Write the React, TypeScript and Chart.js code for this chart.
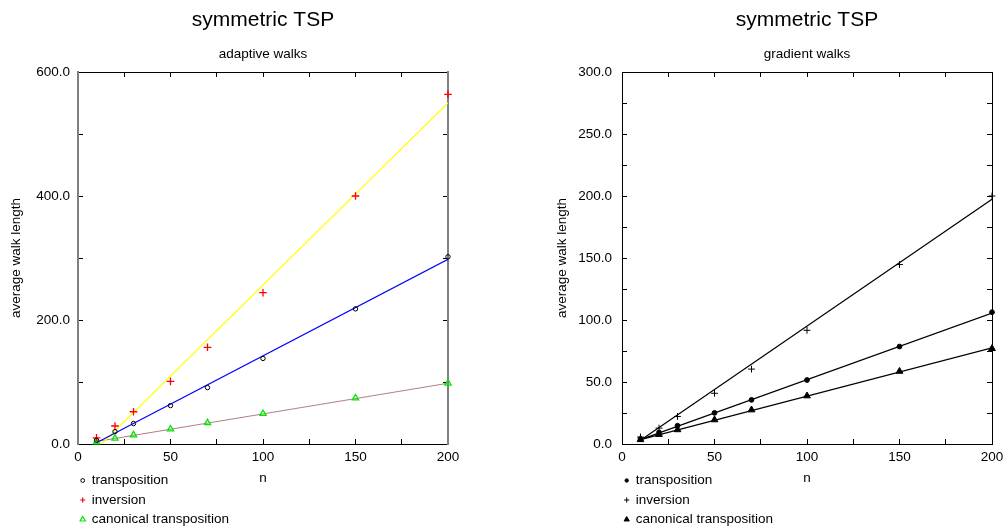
import React, { useEffect, useRef } from 'react';
import { Chart, registerables } from 'chart.js';

Chart.register(...registerables);

const FONT = "'Liberation Sans', Arial, Helvetica, sans-serif";

// ---------- data ----------
const nValues = [10, 20, 30, 50, 70, 100, 150, 200];
const fitRange = [10, 200];

// adaptive walks
const adaptiveTransposition = [6, 20, 33, 62, 91, 138, 218, 302];
const adaptiveInversion = [10, 29, 52, 101, 156, 244, 400, 564];
const adaptiveCanonical = [3, 9, 14.5, 24, 34, 49, 74, 98];
const adaptiveFitTransposition = [2, 298];
const adaptiveFitInversion = [-8, 550];
const adaptiveFitCanonical = [4, 98];

// gradient walks
const gradientTransposition = [4.0, 9.3, 14.7, 25.1, 35.6, 51.6, 78.6, 106.3];
const gradientInversion = [5.6, 12.8, 22.2, 40.9, 60.4, 91.7, 144.7, 200];
const gradientCanonical = [3.5, 7.7, 11.5, 19.5, 27.5, 38.8, 58.6, 77];
const gradientFitTransposition = [3.5, 105.5];
const gradientFitInversion = [3, 197.4];
const gradientFitCanonical = [3.5, 77.5];

const seriesLabels = ['transposition', 'inversion', 'canonical transposition'];
const chartTitle = 'symmetric TSP';
const subtitles = ['adaptive walks', 'gradient walks'];
const xTitle = 'n';
const yTitle = 'average walk length';

// ---------- helpers ----------
const toPoints = (xs: number[], ys: number[]) => xs.map((x, i) => ({ x, y: ys[i] }));

type Marker = { style: 'circle' | 'cross' | 'triangle'; r: number; color: string; fill: string | null; lw: number };

function drawMarker(ctx: CanvasRenderingContext2D, m: Marker, x: number, y: number) {
  ctx.save();
  ctx.strokeStyle = m.color;
  ctx.lineWidth = m.lw;
  ctx.beginPath();
  if (m.style === 'circle') {
    ctx.arc(x, y, m.r, 0, Math.PI * 2);
  } else if (m.style === 'cross') {
    ctx.moveTo(x - m.r, y);
    ctx.lineTo(x + m.r, y);
    ctx.moveTo(x, y - m.r);
    ctx.lineTo(x, y + m.r);
  } else {
    let rad = 0;
    ctx.moveTo(x + Math.sin(rad) * m.r, y - Math.cos(rad) * m.r);
    rad += (2 * Math.PI) / 3;
    ctx.lineTo(x + Math.sin(rad) * m.r, y - Math.cos(rad) * m.r);
    rad += (2 * Math.PI) / 3;
    ctx.lineTo(x + Math.sin(rad) * m.r, y - Math.cos(rad) * m.r);
    ctx.closePath();
  }
  if (m.fill && m.style !== 'cross') {
    ctx.fillStyle = m.fill;
    ctx.fill();
  }
  ctx.stroke();
  ctx.restore();
}

const LEGEND_TOP = 36.5;
const LEGEND_ROW = 19.5;

const rowLegendPlugin = {
  id: 'rowLegend',
  afterDraw(chart: any) {
    const { ctx, chartArea } = chart;
    const items = chart.data.datasets.filter((d: any) => d.legendMarker);
    ctx.save();
    ctx.font = `13.5px ${FONT}`;
    ctx.textBaseline = 'middle';
    ctx.textAlign = 'left';
    ctx.fillStyle = '#000';
    items.forEach((d: any, i: number) => {
      const y = chartArea.bottom + LEGEND_TOP + i * LEGEND_ROW;
      drawMarker(ctx, d.legendMarker, chartArea.left + 4.7, y);
      ctx.fillText(d.label, chartArea.left + 13.7, y);
    });
    ctx.restore();
  },
};

type PanelParams = {
  subtitle: string;
  yMax: number;
  yStep: number;
  yLabelStep: number;
  yAxisWidth: number;
  rightPad: number;
  yBorderColor: string;
  yBorderWidth: number;
  yTickPad: number;
  yTitlePad: number;
  datasets: any[];
};

function buildConfig(p: PanelParams): any {
  const tickFont = { family: FONT, size: 13.5 };
  const grid = {
    display: true,
    drawOnChartArea: false,
    drawTicks: true,
    tickLength: -5,
    color: '#000',
    tickColor: '#000',
    tickWidth: 1,
  };
  const xBorder = { display: true, color: '#000', width: 1 };
  const yBorder = { display: true, color: p.yBorderColor, width: p.yBorderWidth };
  return {
    type: 'scatter',
    data: { datasets: p.datasets },
    options: {
      responsive: false,
      animation: false,
      events: [],
      layout: { padding: { left: 0, right: p.rightPad, top: 0, bottom: 42 } },
      plugins: {
        legend: { display: false },
        tooltip: { enabled: false },
        title: {
          display: true,
          text: chartTitle,
          fullSize: false,
          color: '#000',
          font: { family: FONT, size: 21, weight: 'normal' },
          padding: { top: 7.7, bottom: 0 },
        },
        subtitle: {
          display: true,
          text: p.subtitle,
          fullSize: false,
          color: '#000',
          font: { family: FONT, size: 13.5, weight: 'normal' },
          padding: { top: 12.8, bottom: 10.1 },
        },
      },
      scales: {
        x: {
          type: 'linear',
          position: 'bottom',
          min: 0,
          max: 200,
          afterFit: (s: any) => {
            s.height = 45;
            s.paddingLeft = 0;
            s.paddingRight = 0;
          },
          ticks: {
            stepSize: 25,
            autoSkip: false,
            maxRotation: 0,
            font: tickFont,
            color: '#000',
            padding: 10.4,
            callback: (v: number) => (v % 50 === 0 ? String(v) : ''),
          },
          grid,
          border: xBorder,
          title: {
            display: true,
            text: xTitle,
            color: '#000',
            font: { family: FONT, size: 13.5 },
            padding: { top: 0, bottom: 2.8 },
          },
        },
        x2: {
          type: 'linear',
          position: 'top',
          min: 0,
          max: 200,
          afterFit: (s: any) => {
            s.height = 0;
            s.paddingLeft = 0;
            s.paddingRight = 0;
          },
          ticks: { display: false, stepSize: 25, autoSkip: false },
          grid,
          border: xBorder,
        },
        y: {
          type: 'linear',
          position: 'left',
          min: 0,
          max: p.yMax,
          afterFit: (s: any) => {
            s.width = p.yAxisWidth;
            s.paddingTop = 0;
            s.paddingBottom = 0;
          },
          ticks: {
            stepSize: p.yStep,
            autoSkip: false,
            font: tickFont,
            color: '#000',
            padding: p.yTickPad,
            callback: (v: number) => (v % p.yLabelStep === 0 ? v.toFixed(1) : ''),
          },
          grid,
          border: yBorder,
          title: {
            display: true,
            text: yTitle,
            color: '#000',
            font: { family: FONT, size: 13.5 },
            padding: { top: p.yTitlePad, bottom: 0 },
          },
        },
        y2: {
          type: 'linear',
          position: 'right',
          min: 0,
          max: p.yMax,
          afterFit: (s: any) => {
            s.width = 0;
            s.paddingTop = 0;
            s.paddingBottom = 0;
          },
          ticks: { display: false, stepSize: p.yStep, autoSkip: false },
          grid,
          border: yBorder,
        },
      },
    },
    plugins: [rowLegendPlugin],
  };
}

function pointSet(label: string, ys: number[], m: Marker, legendMarker: Marker) {
  return {
    label,
    data: toPoints(nValues, ys),
    showLine: false,
    clip: false,
    pointStyle: m.style,
    pointRadius: m.r,
    pointHoverRadius: m.r,
    pointBorderColor: m.color,
    pointBackgroundColor: m.fill ?? 'rgba(0,0,0,0)',
    pointBorderWidth: m.lw,
    legendMarker,
  };
}

function fitSet(label: string, ys: number[], color: string) {
  return {
    label,
    data: toPoints(fitRange, ys),
    showLine: true,
    borderColor: color,
    borderWidth: 1.2,
    pointRadius: 0,
    pointHoverRadius: 0,
    fill: false,
  };
}

const adaptiveDatasets = [
  pointSet(seriesLabels[0], adaptiveTransposition,
    { style: 'circle', r: 2.2, color: '#000', fill: null, lw: 1 },
    { style: 'circle', r: 1.9, color: '#000', fill: null, lw: 1 }),
  pointSet(seriesLabels[1], adaptiveInversion,
    { style: 'cross', r: 3.8, color: '#ff0000', fill: null, lw: 1.3 },
    { style: 'cross', r: 2.5, color: '#ff0000', fill: null, lw: 1.2 }),
  pointSet(seriesLabels[2], adaptiveCanonical,
    { style: 'triangle', r: 3.6, color: '#00e600', fill: null, lw: 1.3 },
    { style: 'triangle', r: 3, color: '#00e600', fill: null, lw: 1.2 }),
  fitSet('fit transposition', adaptiveFitTransposition, '#0000ff'),
  fitSet('fit inversion', adaptiveFitInversion, '#ffff00'),
  fitSet('fit canonical transposition', adaptiveFitCanonical, '#b48282'),
];

const gradientDatasets = [
  pointSet(seriesLabels[0], gradientTransposition,
    { style: 'circle', r: 2.4, color: '#000', fill: '#000', lw: 1 },
    { style: 'circle', r: 1.7, color: '#000', fill: '#000', lw: 1 }),
  pointSet(seriesLabels[1], gradientInversion,
    { style: 'cross', r: 3.4, color: '#000', fill: null, lw: 1 },
    { style: 'cross', r: 2.6, color: '#000', fill: null, lw: 1 }),
  pointSet(seriesLabels[2], gradientCanonical,
    { style: 'triangle', r: 3.9, color: '#000', fill: '#000', lw: 1 },
    { style: 'triangle', r: 3, color: '#000', fill: '#000', lw: 1 }),
  fitSet('fit transposition', gradientFitTransposition, '#000'),
  fitSet('fit inversion', gradientFitInversion, '#000'),
  fitSet('fit canonical transposition', gradientFitCanonical, '#000'),
];

const panels: { left: number; width: number; params: PanelParams }[] = [
  {
    left: 0,
    width: 500,
    params: {
      subtitle: subtitles[0],
      yMax: 600,
      yStep: 100,
      yLabelStep: 200,
      yAxisWidth: 78,
      rightPad: 52,
      yBorderColor: '#808080',
      yBorderWidth: 2,
      yTickPad: 13,
      yTitlePad: 8,
      datasets: adaptiveDatasets,
    },
  },
  {
    left: 500,
    width: 505,
    params: {
      subtitle: subtitles[1],
      yMax: 300,
      yStep: 25,
      yLabelStep: 50,
      yAxisWidth: 122,
      rightPad: 13,
      yBorderColor: '#000',
      yBorderWidth: 1,
      yTickPad: 15,
      yTitlePad: 54,
      datasets: gradientDatasets,
    },
  },
];

function Panel({ left, width, params }: { left: number; width: number; params: PanelParams }) {
  const ref = useRef<HTMLCanvasElement>(null);
  useEffect(() => {
    const chart = new Chart(ref.current as HTMLCanvasElement, buildConfig(params));
    return () => chart.destroy();
  }, []);
  return (
    <canvas
      ref={ref}
      width={width}
      height={531}
      style={{ position: 'absolute', left, top: 0, width, height: 531 }}
    />
  );
}

export default function App() {
  return (
    <div style={{ position: 'absolute', left: 0, top: 0, width: 1005, height: 531, background: '#fff', overflow: 'hidden' }}>
      {panels.map((p, i) => (
        <Panel key={i} left={p.left} width={p.width} params={p.params} />
      ))}
    </div>
  );
}
